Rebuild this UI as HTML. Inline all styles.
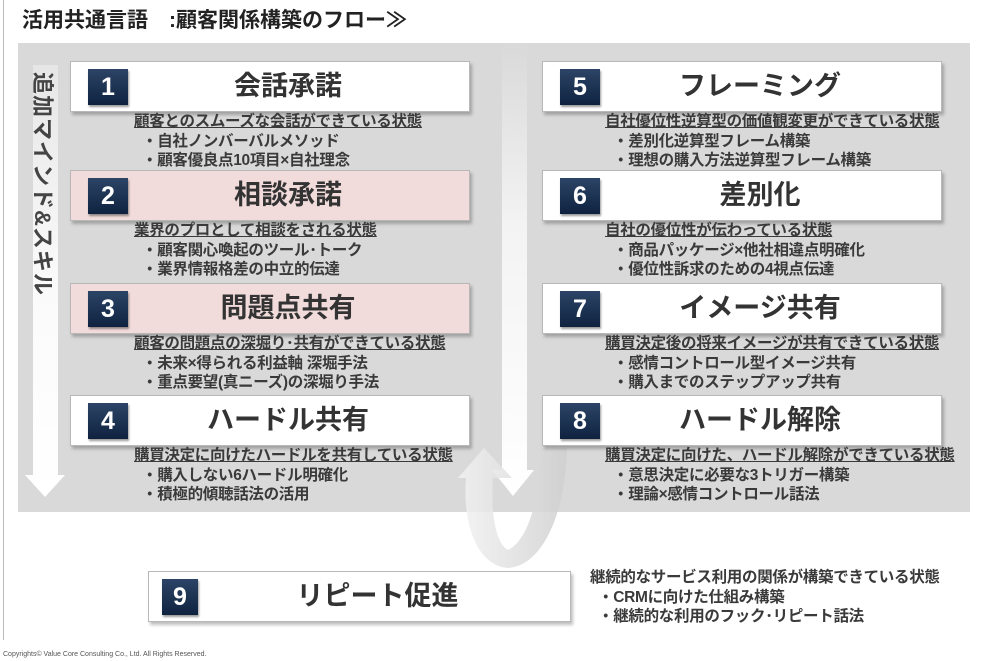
<!DOCTYPE html>
<html><head><meta charset="utf-8">
<style>
body{margin:0;width:988px;height:661px;background:#fff;position:relative;overflow:hidden;font-family:"Liberation Sans","Noto Sans CJK JP",sans-serif;color:#333}
.a{position:absolute}
.box{position:absolute;width:398px;height:49px;background:#fff;border:1px solid #b8b8b8;box-shadow:2px 3px 3px rgba(0,0,0,.25)}
.pink{background:#f2dcdb}
.badge{position:absolute;left:17px;top:7px;width:40px;height:36px;background:linear-gradient(#2c4466,#0f2340);color:#fff;font-weight:bold;font-size:25px;text-align:center;line-height:36px;box-shadow:1px 2px 2px rgba(0,0,0,.4)}
.ttl{position:absolute;left:36px;right:0;top:0;line-height:49px;text-align:center;font-size:27px;font-weight:bold;color:#333}
.d{position:absolute;font-size:15.5px;line-height:19.5px;font-weight:bold;color:#3a3a3a;white-space:nowrap;letter-spacing:-0.3px}
.d u{text-decoration:underline}
.d div{padding-left:8px}
</style></head><body>
<div class="a" style="left:3px;top:0;width:1px;height:640px;background:#bbb"></div>
<div class="a" style="left:22px;top:4px;font-size:21px;font-weight:bold;color:#222">活用共通言語　:顧客関係構築のフロー≫</div>
<div class="a" style="left:18px;top:43px;width:952px;height:469px;background:#d9d9d9"></div>
<svg class="a" style="left:0;top:0" width="988" height="661">
<defs>
<linearGradient id="g1" x1="0" y1="0" x2="0" y2="1"><stop offset="0" stop-color="#e6e6e6"/><stop offset="0.5" stop-color="#fafafa"/><stop offset="1" stop-color="#fff"/></linearGradient>
<linearGradient id="g2" x1="0" y1="0" x2="0" y2="1"><stop offset="0" stop-color="#d9d9d9"/><stop offset="0.4" stop-color="#f3f3f3"/><stop offset="1" stop-color="#fff"/></linearGradient>
<linearGradient id="g3" x1="0" y1="0" x2="1" y2="0"><stop offset="0" stop-color="#f2f2f2"/><stop offset="1" stop-color="#cfcfcf"/></linearGradient>
</defs>
<polygon points="33,65 58,65 58,475 65,475 45,497 25,475 33,475" fill="url(#g1)"/>
<polygon points="502,43 527,43 527,470 534,470 513,496 492,470 502,470" fill="url(#g2)"/>
<path d="M567,448 C565,520 540,566 508,568 C478,566 462,525 466,478 L458,478 L484,448 L512,478 L493,478 C490,520 498,545 508,550 C528,540 540,500 540,448 Z" fill="url(#g3)" opacity="0.85"/>
</svg>
<div class="a" style="left:28px;top:72px;writing-mode:vertical-rl;text-orientation:sideways;font-size:22px;font-weight:bold;color:#444;letter-spacing:1px">追加マインド&amp;スキル</div>

<div class="box" style="left:70px;top:61px"><div class="badge">1</div><div class="ttl">会話承諾</div></div>
<div class="box pink" style="left:70px;top:170px"><div class="badge">2</div><div class="ttl">相談承諾</div></div>
<div class="box pink" style="left:70px;top:283px"><div class="badge">3</div><div class="ttl">問題点共有</div></div>
<div class="box" style="left:70px;top:395px"><div class="badge">4</div><div class="ttl">ハードル共有</div></div>
<div class="box" style="left:542px;top:61px"><div class="badge">5</div><div class="ttl">フレーミング</div></div>
<div class="box" style="left:542px;top:170px"><div class="badge">6</div><div class="ttl">差別化</div></div>
<div class="box" style="left:542px;top:283px"><div class="badge">7</div><div class="ttl">イメージ共有</div></div>
<div class="box" style="left:542px;top:395px"><div class="badge">8</div><div class="ttl">ハードル解除</div></div>
<div class="box" style="left:148px;top:571px;width:421px"><div class="badge" style="left:13px;width:36px">9</div><div class="ttl">リピート促進</div></div>

<div class="d" style="left:134px;top:112px"><u>顧客とのスムーズな会話ができている状態</u><div>・自社ノンバーバルメソッド</div><div>・顧客優良点10項目×自社理念</div></div>
<div class="d" style="left:134px;top:221px"><u>業界のプロとして相談をされる状態</u><div>・顧客関心喚起のツール･トーク</div><div>・業界情報格差の中立的伝達</div></div>
<div class="d" style="left:134px;top:334px"><u>顧客の問題点の深堀り･共有ができている状態</u><div>・未来×得られる利益軸 深堀手法</div><div>・重点要望(真ニーズ)の深堀り手法</div></div>
<div class="d" style="left:134px;top:446px"><u>購買決定に向けたハードルを共有している状態</u><div>・購入しない6ハードル明確化</div><div>・積極的傾聴話法の活用</div></div>
<div class="d" style="left:605px;top:112px"><u>自社優位性逆算型の価値観変更ができている状態</u><div>・差別化逆算型フレーム構築</div><div>・理想の購入方法逆算型フレーム構築</div></div>
<div class="d" style="left:605px;top:221px"><u>自社の優位性が伝わっている状態</u><div>・商品パッケージ×他社相違点明確化</div><div>・優位性訴求のための4視点伝達</div></div>
<div class="d" style="left:605px;top:334px"><u>購買決定後の将来イメージが共有できている状態</u><div>・感情コントロール型イメージ共有</div><div>・購入までのステップアップ共有</div></div>
<div class="d" style="left:605px;top:446px"><u>購買決定に向けた、ハードル解除ができている状態</u><div>・意思決定に必要な3トリガー構築</div><div>・理論×感情コントロール話法</div></div>
<div class="d" style="left:590px;top:568px">継続的なサービス利用の関係が構築できている状態<div>・CRMに向けた仕組み構築</div><div>・継続的な利用のフック･リピート話法</div></div>
<div class="a" style="left:3px;top:651px;font-size:7px;color:#555">Copyrights© Value Core Consulting Co., Ltd.  All Rights Reserved.</div>
</body></html>
